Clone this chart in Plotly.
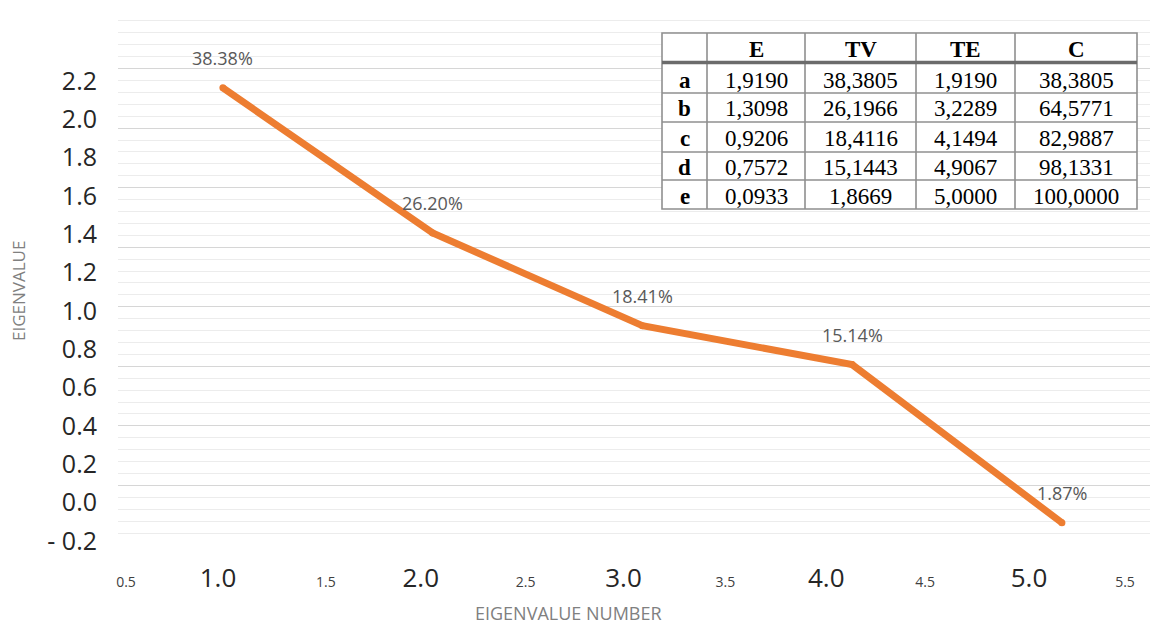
import plotly.graph_objects as go

# ---------------- data ----------------
component = [1, 2, 3, 4, 5]
eigen_E = [1.9190, 1.3098, 0.9206, 0.7572, 0.0933]
total_var_TV = [38.3805, 26.1966, 18.4116, 15.1443, 1.8669]
cum_eigen_TE = [1.9190, 3.2289, 4.1494, 4.9067, 5.0000]
cum_var_C = [38.3805, 64.5771, 82.9887, 98.1331, 100.0000]
row_names = ["a", "b", "c", "d", "e"]
col_names = ["", "E", "TV", "TE", "C"]

x_minor_ticks = [0.5, 1.5, 2.5, 3.5, 4.5, 5.5]
x_major_ticks = [1.0, 2.0, 3.0, 4.0, 5.0]
y_tick_values = [-0.2, 0.0, 0.2, 0.4, 0.6, 0.8, 1.0, 1.2, 1.4, 1.6, 1.8, 2.0, 2.2]
y_tick_text = ["- 0.2", "0.0", "0.2", "0.4", "0.6", "0.8", "1.0", "1.2", "1.4", "1.6", "1.8", "2.0", "2.2"]

pct_labels = [f"{v:.2f}%" for v in total_var_TV]


def comma(v):
    return f"{v:.4f}".replace(".", ",")


# ---------------- layout geometry ----------------
OFF = 8                      # page body margin
W, H = 1158 - OFF, 626 - OFF
PLOT_L, PLOT_R, PLOT_T, PLOT_B = 118, 1158, 9, 545   # in screen pixels
ML = PLOT_L - OFF
MT = PLOT_T - OFF
MR = (W + OFF) - PLOT_R
MB = (H + OFF) - PLOT_B
PW, PH = PLOT_R - PLOT_L, PLOT_B - PLOT_T


def px(xs):
    return (xs - PLOT_L) / PW


def py(ys):
    return (PLOT_B - ys) / PH


FONT = "Open Sans"
ORANGE = "#ED7D31"

fig = go.Figure()

fig.add_trace(go.Scatter(
    x=component, y=eigen_E, mode="lines+markers",
    line=dict(color=ORANGE, width=7),
    marker=dict(color=ORANGE, size=7),
    hoverinfo="skip", showlegend=False,
))
# empty traces to activate the label axes
fig.add_trace(go.Scatter(x=[], y=[], xaxis="x2", yaxis="y2", showlegend=False))
fig.add_trace(go.Scatter(x=[], y=[], xaxis="x3", yaxis="y", showlegend=False))

# data labels
for xv, yv, t in zip(component, eigen_E, pct_labels):
    fig.add_annotation(x=xv, y=yv, xref="x", yref="y", text=t, showarrow=False,
                       xanchor="center", yanchor="middle",
                       yshift=30, font=dict(family=FONT, size=18, color="#595959"))

# ---------------- table (drawn with shapes + text) ----------------
col_edges = [662, 707, 805, 916, 1015, 1137]
row_edges = [33, 62.5, 93, 122, 152, 180, 209]
GRID = dict(color="#8f8f8f", width=1.6)
TFONT = dict(family="Liberation Serif", size=23, color="black")

fig.add_shape(type="rect", xref="paper", yref="paper",
              x0=px(col_edges[0]), x1=px(col_edges[-1]),
              y0=py(row_edges[-1]), y1=py(row_edges[0]),
              fillcolor="white", line=GRID, layer="above")
for cx in col_edges[1:-1]:
    fig.add_shape(type="line", xref="paper", yref="paper", x0=px(cx), x1=px(cx),
                  y0=py(row_edges[-1]), y1=py(row_edges[0]), line=GRID, layer="above")
for ry in row_edges[2:-1]:
    fig.add_shape(type="line", xref="paper", yref="paper", x0=px(col_edges[0]), x1=px(col_edges[-1]),
                  y0=py(ry), y1=py(ry), line=GRID, layer="above")
fig.add_shape(type="line", xref="paper", yref="paper", x0=px(col_edges[0]), x1=px(col_edges[-1]),
              y0=py(row_edges[1]), y1=py(row_edges[1]), line=dict(color="#6b6b6b", width=3.6),
              layer="above")

table_cols = [[f"<b>{r}</b>" for r in row_names],
              [comma(v) for v in eigen_E],
              [comma(v) for v in total_var_TV],
              [comma(v) for v in cum_eigen_TE],
              [comma(v) for v in cum_var_C]]

for j, name in enumerate(col_names):
    cxm = (col_edges[j] + col_edges[j + 1]) / 2
    if name:
        fig.add_annotation(x=px(cxm), y=py((row_edges[0] + row_edges[1]) / 2 + 2),
                           xref="paper", yref="paper", text=f"<b>{name}</b>", showarrow=False,
                           xanchor="center", yanchor="middle", font=TFONT)
    for i, val in enumerate(table_cols[j]):
        top = row_edges[i + 1] + (2 if i == 0 else 0)
        cym = (top + row_edges[i + 2]) / 2 + 1.5
        fig.add_annotation(x=px(cxm), y=py(cym), xref="paper", yref="paper", text=val,
                           showarrow=False, xanchor="center", yanchor="middle", font=TFONT)

# axis titles
fig.add_annotation(x=px(568), y=py(613), xref="paper", yref="paper", text="EIGENVALUE NUMBER",
                   showarrow=False, xanchor="center", yanchor="middle",
                   font=dict(family=FONT, size=18, color="#808080"))
fig.add_annotation(x=px(18), y=py(291), xref="paper", yref="paper", text="EIGENVALUE",
                   textangle=-90, showarrow=False, xanchor="center", yanchor="middle",
                   font=dict(family=FONT, size=17, color="#808080"))

# label scales
x2_lo = 0.5 - (126 - PLOT_L) / 199.8
x2_hi = 0.5 + (PLOT_R - 126) / 199.8
x3_lo = 1.0 - (218 - PLOT_L) / 202.75
x3_hi = 1.0 + (PLOT_R - 218) / 202.75
y2_lo = 0.0 - (PLOT_B - 502.7) / 191.7
y2_hi = 0.0 + (502.7 - PLOT_T) / 191.7

fig.update_layout(
    width=W, height=H,
    margin=dict(l=ML, r=MR, t=MT, b=MB, pad=0),
    paper_bgcolor="white", plot_bgcolor="white",
    showlegend=False,
    xaxis=dict(range=[0.5, 5.458], showticklabels=False, showgrid=False,
               zeroline=False, showline=False, ticks=""),
    yaxis=dict(range=[0, 2.25], dtick=0.25, tick0=0, showticklabels=False,
               showgrid=True, gridcolor="#d6d6d6", gridwidth=1.4,
               zeroline=False, showline=False, ticks="",
               minor=dict(dtick=0.05, showgrid=True, gridcolor="#ececec", gridwidth=1.3)),
    xaxis2=dict(overlaying="x", anchor="y", side="bottom", range=[x2_lo, x2_hi],
                tickmode="array", tickvals=x_minor_ticks,
                ticktext=[f"{v:.1f}" for v in x_minor_ticks],
                tickfont=dict(family=FONT, size=14, color="#404040"),
                showgrid=False, zeroline=False, showline=False, ticks="",
                ticklabelstandoff=27),
    xaxis3=dict(overlaying="x", anchor="y", side="bottom", range=[x3_lo, x3_hi],
                tickmode="array", tickvals=x_major_ticks,
                ticktext=[f"{v:.1f}" for v in x_major_ticks],
                tickfont=dict(family=FONT, size=26, color="#262626"),
                showgrid=False, zeroline=False, showline=False, ticks="",
                ticklabelstandoff=15),
    yaxis2=dict(overlaying="y", anchor="x", side="left", range=[y2_lo, y2_hi],
                tickmode="array", tickvals=y_tick_values, ticktext=y_tick_text,
                tickfont=dict(family=FONT, size=25, color="#262626"),
                showgrid=False, zeroline=False, showline=False, ticks="",
                ticklabelstandoff=20),
)

fig.write_html("out.html")
